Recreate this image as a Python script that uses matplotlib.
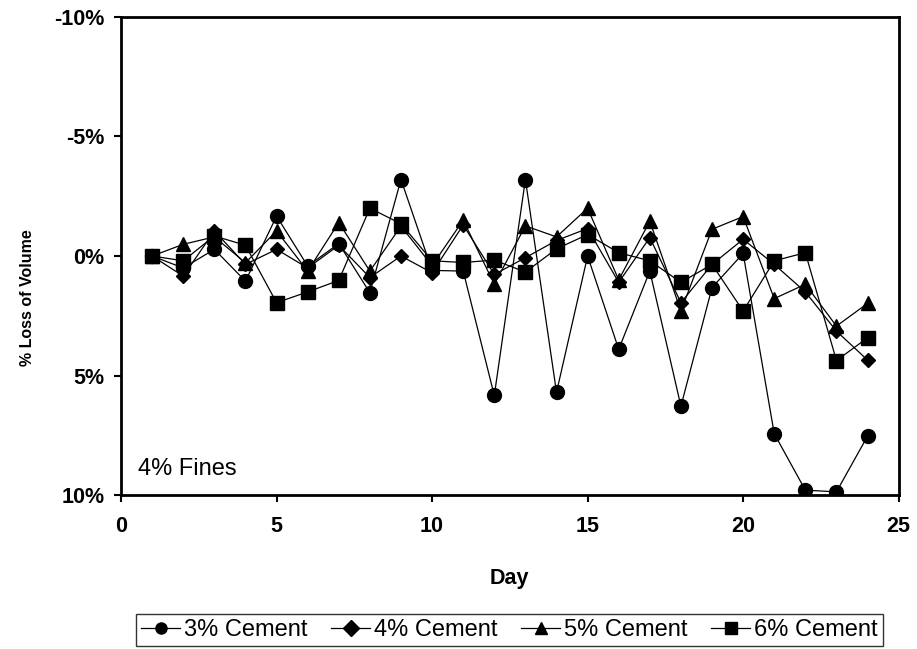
import numpy as np
import matplotlib
matplotlib.use('Agg')
import matplotlib.pyplot as plt
from matplotlib.ticker import FuncFormatter

plt.rcParams['font.family'] = ['Liberation Sans', 'DejaVu Sans']

days = list(range(1, 25))

# % loss of volume (negative = gain)
cement3 = [0, 0.5, -0.28, 1.05, -1.67, 0.42, -0.52, 1.53, -3.2, 0.6, 0.63, 5.83,
           -3.2, 5.7, 0.0, 3.9, 0.63, 6.28, 1.32, -0.11, 7.43, 9.79, 9.86, 7.53]
cement4 = [0, 0.84, -1.05, 0.35, -0.28, 0.5, -0.45, 0.9, 0.0, 0.7, -1.3, 0.77,
           0.07, -0.65, -1.15, 1.1, -0.77, 1.95, 0.35, -0.7, 0.35, 1.5, 3.14, 4.35]
cement5 = [0, -0.49, -0.8, 0.28, -1.05, 0.63, -1.4, 0.63, -1.25, 0.4, -1.5, 1.18,
           -1.26, -0.8, -2.0, 1.0, -1.46, 2.3, -1.12, -1.65, 1.78, 1.18, 2.93, 1.98]
cement6 = [0, 0.2, -0.84, -0.45, 1.95, 1.5, 1.02, -2.0, -1.35, 0.2, 0.27, 0.17,
           0.67, -0.3, -0.9, -0.14, 0.2, 1.1, 0.35, 2.3, 0.2, -0.14, 4.37, 3.42]

fig = plt.figure(figsize=(9.17, 6.49), dpi=100)
ax = fig.add_axes([0.132, 0.237, 0.848, 0.737])

series = [
    (cement3, 'o', 10, '3% Cement'),
    (cement4, 'D', 7, '4% Cement'),
    (cement5, '^', 10, '5% Cement'),
    (cement6, 's', 9.5, '6% Cement'),
]
for vals, mk, ms, lab in series:
    ax.plot(days, vals, color='black', lw=0.9, marker=mk, ms=ms,
            markerfacecolor='black', markeredgecolor='black', label=lab)

ax.set_xlim(0, 25)
ax.set_ylim(10, -10)
ax.set_xticks([0, 5, 10, 15, 20, 25])
ax.set_yticks([-10, -5, 0, 5, 10])
ax.yaxis.set_major_formatter(FuncFormatter(lambda v, p: '%d%%' % v))

for s in ax.spines.values():
    s.set_linewidth(2)
ax.tick_params(direction='out', length=5, width=1.5, labelsize=15.5)
ax.tick_params(axis='x', pad=10)
ax.tick_params(axis='y', pad=7)
for lbl in ax.get_xticklabels() + ax.get_yticklabels():
    lbl.set_fontweight('bold')

ax.set_xlabel('Day', fontsize=15.5, fontweight='bold', labelpad=22)
ax.set_ylabel('% Loss of Volume', fontsize=11.5, fontweight='bold')
ax.yaxis.set_label_coords(-0.111, 0.412)

ax.text(0.022, 0.042, '4% Fines', transform=ax.transAxes, fontsize=17,
        va='baseline')

leg = fig.legend(loc='lower center', bbox_to_anchor=(0.5556, 0.005), ncol=4,
                 fontsize=17, frameon=True, fancybox=False, handlelength=1.65,
                 handletextpad=0.17, columnspacing=1.0, borderpad=0.2,
                 borderaxespad=0)
leg.get_frame().set_edgecolor('black')
leg.get_frame().set_linewidth(1)
for h in leg.legend_handles:
    h.set_markersize(8)

fig.savefig('out.png', dpi=100)
